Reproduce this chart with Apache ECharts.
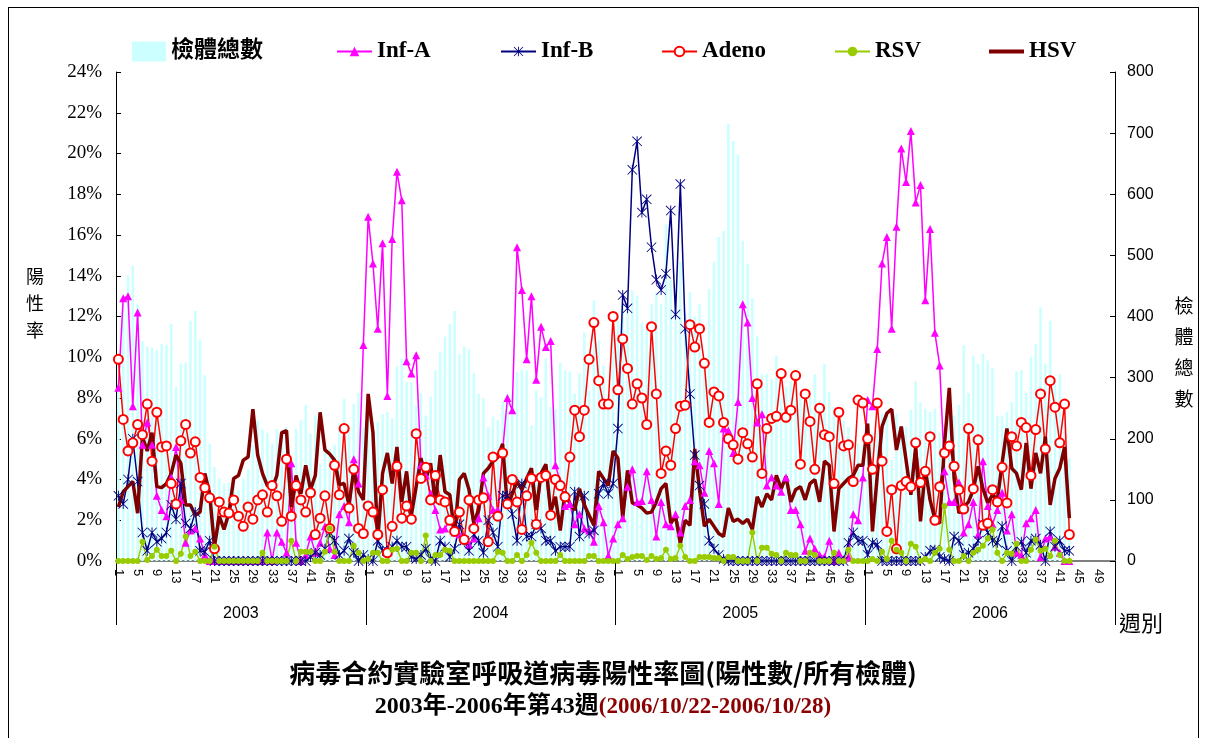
<!DOCTYPE html>
<html><head><meta charset="utf-8">
<script src="https://cdn.jsdelivr.net/npm/echarts@6/dist/echarts.min.js"></script>
<style>
html,body{margin:0;padding:0;background:#fff;overflow:hidden;}
#frame{position:absolute;left:8px;top:7px;width:1191px;height:800px;border:1px solid #000;box-sizing:border-box;}
#chart{position:absolute;left:0;top:0;width:1206px;height:738px;}
</style></head>
<body><div id="frame"></div><div id="chart"></div>
<script>
// ---- categories / tick labels ----
const years = ['2003','2004','2005','2006'];
const weeksPerYear = 52;

// ---- 檢體總數 (right axis) ----
const bars2003 = [290,420,467,483,420,360,351,349,345,355,353,388,285,323,325,393,409,362,304,192,154,135,127,128,127,116,135,150,190,230,215,210,192,216,213,219,170,216,230,255,208,238,160,186,184,190,225,265,222,257,275,220];
const bars2004 = [252,227,227,240,244,233,318,331,293,293,255,274,238,269,312,342,367,388,409,338,351,346,307,274,266,219,236,230,260,274,274,309,313,312,222,279,268,331,252,249,324,312,309,274,307,374,279,426,361,320,274,388];
const bars2005 = [400,420,410,442,434,390,380,420,440,420,551,460,420,490,405,440,400,420,330,445,490,530,540,715,687,665,524,486,430,367,305,306,298,336,266,285,293,280,274,263,268,306,263,322,276,252,231,230,219,187,192,189];
const bars2006 = [190,210,214,241,238,165,241,203,219,247,294,260,249,244,249,210,200,238,238,255,353,275,336,323,339,328,315,237,237,244,260,310,312,275,334,355,415,323,393,290,306,240,168];

// ---- Inf-A (%) ----
const infA2003 = [8.5,12.9,13.0,7.6,12.2,5.7,6.8,5.7,3.2,2.5,2.2,4.1,5.6,3.0,0.9,1.5,1.6,1.1,0.3,0,0,0,0,0,0,0,0,0,0,0,0,1.4,0,1.4,0.95,0.4,4.8,0.9,0,0.3,1.2,0.4,0.9,1.7,0.6,0.3,2.3,2.7,1.9,5.0,3.8,10.6];
const infA2004 = [16.9,14.6,11.4,15.6,8.1,15.8,19.1,17.7,9.8,9.2,10.1,4.7,4.2,3.3,2.5,1.55,1.6,2.0,1.4,1.3,1.2,0.8,1.1,2.1,4.1,3.2,2.5,2.5,5.4,8.0,7.4,15.4,13.3,9.9,13.0,8.9,11.5,10.5,10.8,4.7,3.9,2.7,2.8,1.8,2.3,1.6,1.5,0.95,2.7,1.9,0.26,1.1];
const infA2005 = [1.8,2.1,3.65,4.5,2.9,2.95,4.4,3.0,1.2,2.9,1.8,1.7,2.3,1.4,2.7,3.0,4.9,4.7,3.35,5.4,4.8,2.8,6.5,6.4,5.3,7.8,12.6,11.7,8.0,6.8,7.2,3.7,4.1,3.7,3.4,4.1,2.5,2.5,1.8,0.5,1.1,0.6,0.3,0.2,1.0,0,0.4,0.1,0.2,2.3,2.0,4.1];
const infA2006 = [7.9,7.6,10.4,14.6,15.9,11.4,16.4,20.25,18.6,21.1,17.6,18.45,12.8,16.3,11.2,9.6,4.4,2.9,2.9,3.85,1.4,1.8,2.9,1.3,4.9,2.7,1.8,2.5,3.35,1.5,2.3,0.4,0.3,1.85,2.1,2.5,0.2,1.1,1.2,0.7,0.4,0,0];

// ---- Inf-B (%) ----
const infB2003 = [3.2,2.8,4.0,6.0,3.9,1.4,0.5,1.4,0.95,1.1,1.4,2.75,2.05,3.8,1.85,1.6,2.4,0.5,0.45,1.0,0,0,0,0,0,0,0,0,0,0,0,0,0,0,0,0,0,0,0,0,0.2,0.4,0.3,0.6,1.4,1.0,0.3,0.5,1.1,0.4,0,0.3];
const infB2004 = [0.1,0,1.0,0.5,0.5,0.7,1.0,0.7,0.7,0.2,0.1,0.3,0.6,0.1,0,1.0,0.7,0.2,0.6,1.8,1.0,0.5,1.3,1.0,0.4,2.0,1.4,0.7,3.2,3.2,2.3,1.0,3.8,1.2,1.2,1.8,1.6,1.0,1.0,0.5,0.7,0.7,0.7,3.4,1.2,3.2,1.35,1.5,3.3,3.8,3.3,3.8];
const infB2005 = [6.5,13.05,12.4,19.2,20.6,17.1,17.75,15.4,13.8,13.3,14.1,17.2,12.1,18.5,11.4,8.2,5.2,3.7,2.8,1.0,0.6,0.3,0.1,0,0,0,0,0,0,0,0,0,0,0,0,0,0,0,0,0,0,0,0,0,0,0,0,0,0.9,1.4,1.0,1.0];
const infB2006 = [0.3,0.9,0.8,0,0,0,0,0,0,0,0,0,0.2,0.5,0.55,0.2,0.1,0,1.2,1.0,0.3,0.4,0.6,1.0,1.8,1.4,1.0,0.9,1.7,0.5,0,0.7,0.95,0.4,1.0,1.1,0.8,0,1.45,0.7,1.0,0.5,0.5];

// ---- Adeno (%) ----
const adeno2003 = [9.9,6.95,5.4,5.8,6.7,6.2,7.7,4.9,7.3,5.6,5.65,3.8,2.8,5.9,6.7,5.3,5.85,4.1,3.6,3.1,0.6,2.9,2.4,2.35,3.0,2.2,1.7,2.65,2.05,3.0,3.25,2.4,3.7,3.2,1.95,5.0,2.2,3.7,3.0,2.4,3.35,1.3,2.1,3.2,1.6,4.7,3.25,6.5,2.6,4.5,1.6,1.35];
const adeno2004 = [2.7,2.4,1.3,3.5,0.4,1.7,4.65,2.1,2.7,2.05,6.25,4.05,4.6,3.0,4.2,3.0,2.9,2.0,1.45,2.4,1.05,3.0,1.6,3.0,3.1,0.95,5.1,2.2,5.3,2.8,4.0,2.9,1.55,3.2,4.05,1.8,4.1,4.2,2.25,4.0,3.7,3.15,5.1,7.4,6.1,7.4,9.9,11.7,8.85,7.7,7.7,12.0];
const adeno2005 = [8.4,10.9,9.45,7.7,8.7,8.0,6.7,11.5,8.2,4.3,5.4,4.7,6.5,7.6,7.65,11.6,10.5,11.4,9.7,6.8,8.3,8.1,6.8,6.0,5.7,5.0,6.3,5.75,5.1,8.7,4.3,6.5,7.0,7.1,9.2,7.05,7.4,9.1,4.75,8.2,6.85,4.5,7.5,6.2,6.1,3.8,7.3,5.65,5.7,3.9,7.9,7.75];
const adeno2006 = [6.0,4.5,7.75,4.9,1.45,3.5,0.6,3.7,3.9,3.65,5.8,3.85,4.4,6.1,2.0,3.65,5.3,5.65,4.65,3.5,2.55,6.5,3.55,5.95,1.75,1.85,3.5,2.9,4.6,2.85,6.1,5.65,6.8,6.55,4.2,6.45,8.2,5.5,8.85,7.55,5.8,7.7,1.3];

// ---- RSV (%) ----
const rsv2003 = [0,0,0,0,0,0.95,0.05,0.25,0.55,0.25,0.25,0.5,0,0.35,1.2,0.25,0.45,0,0,0,0.7,0,0,0,0,0,0,0,0,0,0.4,0,0,0,0,0,1.0,0,0.45,0.45,0.45,0,0,0.45,1.6,0.45,0,0,0,0.75,0.4,0];
const rsv2004 = [0.1,0.4,0.4,0,0,0.55,0.6,0,0,0.4,0.4,0,1.25,0,0.3,0.3,0.55,0.5,0,0,0,0,0,0,0,0,0,0.45,0.4,0,0,0.3,0,0.3,0.9,0.4,0,0,0,0,0.3,0,0,0,0,0,0.25,0.25,0,0,0,0];
const rsv2005 = [0,0.3,0.1,0.2,0.25,0.25,0.05,0.25,0.1,0.15,0.55,0.1,0.15,0.75,0.2,0,0,0.2,0.2,0.2,0.15,0.15,0,0.2,0.2,0,0,0,1.4,0,0.65,0.65,0.35,0.3,0,0.4,0.3,0.3,0,0,0.4,0.3,0,0,0,0.4,0,0,0.55,0,0,0];
const rsv2006 = [0,0.1,0,0.45,0.1,1.0,0.55,0.4,0,0.85,0.7,0,0.1,0,0.4,0.6,2.7,0.55,0,0,0.25,0,0.4,0.55,0.75,1.1,1.55,0.4,0,0.4,0.35,0.85,0,0,0.55,1.05,0.5,0.6,0.25,1.0,0.3,0,0];

// ---- HSV (%) ----
const hsv2003 = [2.65,3.4,3.65,3.9,2.35,6.1,5.4,6.3,3.65,3.6,3.8,4.3,5.2,4.8,2.75,2.75,2.25,2.4,4.3,3.3,0.7,2.2,1.55,2.35,4.05,4.2,4.95,5.1,7.45,5.2,4.3,3.7,3.55,4.2,6.3,6.4,2.65,4.2,3.3,4.7,3.5,4.2,7.3,5.45,5.25,4.95,3.75,3.8,2.75,4.45,3.4,3.0];
const hsv2004 = [8.2,6.3,1.0,4.3,5.3,3.8,5.6,2.9,4.4,2.25,3.65,5.05,4.0,4.8,2.85,5.2,3.4,3.25,1.35,4.0,4.3,3.5,1.85,2.5,4.3,4.55,4.9,5.1,5.75,2.6,3.3,3.9,3.5,4.05,4.55,2.5,4.3,4.75,2.4,3.15,1.5,3.4,2.8,2.5,3.55,2.75,2.25,1.75,4.4,4.05,3.7,5.4];
const hsv2005 = [5.05,2.1,4.45,2.85,2.75,2.6,2.35,2.4,2.9,3.55,3.8,1.85,2.2,0.85,2.0,1.75,5.5,3.5,1.7,2.05,1.7,1.35,1.2,2.6,1.95,2.05,1.85,2.05,1.55,3.15,2.65,3.3,3.0,4.2,3.55,4.15,2.9,3.5,3.65,3.0,3.8,4.0,2.9,4.9,4.7,1.45,3.55,3.8,4.05,4.2,4.7,4.7];
const hsv2006 = [6.75,1.45,4.2,6.6,7.25,7.45,5.45,6.6,4.95,3.25,5.6,1.95,4.5,3.0,2.05,1.85,5.75,8.5,4.05,2.35,2.65,2.9,3.5,4.65,3.55,2.85,3.25,3.0,4.8,6.5,4.55,4.3,3.5,5.8,3.55,5.3,4.3,6.1,2.75,4.05,4.55,5.6,2.1];

// ---- build axis categories and series ----
const categories = [];
years.forEach(y => { for (let w = 1; w <= weeksPerYear; w++) categories.push(y + '-' + w); });
function full(a, b, c, d) {
  const out = [].concat(a, b, c, d);
  while (out.length < categories.length) out.push(null);
  return out;
}
const barsAll = full(bars2003, bars2004, bars2005, bars2006);
const infAAll = full(infA2003, infA2004, infA2005, infA2006);
const infBAll = full(infB2003, infB2004, infB2005, infB2006);
const adenoAll = full(adeno2003, adeno2004, adeno2005, adeno2006);
const rsvAll = full(rsv2003, rsv2004, rsv2005, rsv2006);
const hsvAll = full(hsv2003, hsv2004, hsv2005, hsv2006);

const asterisk = 'path://M4.55,0H5.45V10H4.55Z M0.6,0L10,9.4L9.4,10L0,0.6Z M9.4,0L10,0.6L0.6,10L0,9.4Z';
const serif = "'Liberation Serif','Noto Sans CJK TC',serif";
const sans = "'Liberation Sans',Arial,sans-serif";
const cjk = "'Noto Sans CJK TC','Liberation Serif',sans-serif";

const legendText = {fontFamily: serif, fontWeight: 'bold', fontSize: 23, color: '#000'};
function lg(name, left, w, h, icon) {
  return {data: [icon ? {name: name, icon: icon} : name], left: left, top: 40, padding: 0,
          itemWidth: w, itemHeight: h, selectedMode: false, textStyle: legendText};
}

const chart = echarts.init(document.getElementById('chart'));
chart.setOption({
  animation: false,
  backgroundColor: 'transparent',
  title: {
    left: 'center', top: 660, padding: 0, itemGap: 9,
    text: '病毒合約實驗室呼吸道病毒陽性率圖(陽性數/所有檢體)',
    textStyle: {fontFamily: cjk, fontWeight: 'bold', fontSize: 26, color: '#000'},
    subtext: '{b|2003年-2006年第43週}{r|(2006/10/22-2006/10/28)}',
    subtextStyle: {
      rich: {
        b: {fontFamily: serif, fontWeight: 'bold', fontSize: 24, color: '#000'},
        r: {fontFamily: serif, fontWeight: 'bold', fontSize: 23, color: '#8B0000'}
      }
    }
  },
  legend: [
    lg('檢體總數', 132, 34, 20, 'rect'),
    lg('Inf-A', 336, 35, 12),
    lg('Inf-B', 500, 35, 12),
    lg('Adeno', 661, 35, 12),
    lg('RSV', 834, 35, 12),
    {data: [{name: 'HSV', icon: 'path://M0,0H35V4H0Z'}], left: 989, top: 40, padding: 0,
     itemWidth: 35, itemHeight: 4, selectedMode: false, textStyle: legendText}
  ],
  grid: {left: 116, right: 91, top: 72, bottom: 177, containLabel: false},
  xAxis: [
    {
      type: 'category', data: categories, boundaryGap: true, position: 'bottom',
      axisLine: {show: true, lineStyle: {color: '#808080', width: 2}},
      axisTick: {show: false},
      splitLine: {show: false},
      axisLabel: {interval: 3, rotate: -90, margin: 8, fontFamily: sans, fontSize: 13, color: '#000',
                  formatter: v => v.split('-')[1]}
    },
    {
      type: 'category', data: years, boundaryGap: true, position: 'bottom', offset: 0,
      axisLine: {show: false},
      axisTick: {show: true, interval: 0, length: 64, lineStyle: {color: '#000', width: 1}},
      splitLine: {show: false},
      axisLabel: {interval: 0, margin: 45, fontFamily: sans, fontSize: 16, color: '#000'}
    }
  ],
  yAxis: [
    {
      type: 'value', min: 0, max: 24, interval: 2, position: 'left',
      axisLine: {show: true, lineStyle: {color: '#000', width: 1}},
      axisTick: {show: true, inside: true, length: 5, lineStyle: {color: '#000'}},
      splitLine: {show: false},
      axisLabel: {formatter: '{value}%', margin: 14, fontFamily: serif, fontSize: 19, color: '#000'}
    },
    {
      type: 'value', min: 0, max: 800, interval: 100, position: 'right',
      axisLine: {show: true, lineStyle: {color: '#000', width: 1}},
      axisTick: {show: true, inside: true, length: 5, lineStyle: {color: '#000'}},
      splitLine: {show: false},
      axisLabel: {margin: 12, fontFamily: sans, fontSize: 16, color: '#000'}
    }
  ],
  graphic: [
    {type: 'text', x: 35, y: 303, style: {text: '陽\n性\n率', fontFamily: cjk, fontSize: 18, lineHeight: 27, fill: '#000', align: 'center', verticalAlign: 'middle'}},
    {type: 'text', x: 1184, y: 352, style: {text: '檢\n體\n總\n數', fontFamily: cjk, fontSize: 19, lineHeight: 31, fill: '#000', align: 'center', verticalAlign: 'middle'}},
    {type: 'text', x: 1141, y: 623, style: {text: '週別', fontFamily: cjk, fontSize: 22, fill: '#000', align: 'center', verticalAlign: 'middle'}}
  ],
  series: [
    {name: '檢體總數', type: 'bar', xAxisIndex: 0, yAxisIndex: 1, data: barsAll, barWidth: 2.6,
     itemStyle: {color: '#CCFFFF'}},
    {name: 'Inf-A', type: 'line', yAxisIndex: 0, data: infAAll, symbol: 'triangle', symbolSize: 8, showAllSymbol: true,
     itemStyle: {color: '#FF00FF'}, lineStyle: {color: '#FF00FF', width: 1.5}},
    {name: 'Inf-B', type: 'line', yAxisIndex: 0, data: infBAll, symbol: asterisk, symbolSize: 10, showAllSymbol: true,
     itemStyle: {color: '#000080'}, lineStyle: {color: '#000080', width: 1.5}},
    {name: 'Adeno', type: 'line', yAxisIndex: 0, data: adenoAll, symbol: 'emptyCircle', symbolSize: 9, showAllSymbol: true,
     itemStyle: {color: '#FF0000', borderWidth: 1.3}, lineStyle: {color: '#FF0000', width: 1.5}},
    {name: 'RSV', type: 'line', yAxisIndex: 0, data: rsvAll, symbol: 'circle', symbolSize: 6, showAllSymbol: true,
     itemStyle: {color: '#99CC00'}, lineStyle: {color: '#99CC00', width: 1.5}},
    {name: 'HSV', type: 'line', yAxisIndex: 0, data: hsvAll, symbol: 'none',
     itemStyle: {color: '#800000'}, lineStyle: {color: '#800000', width: 3.5}}
  ]
});
</script></body></html>
